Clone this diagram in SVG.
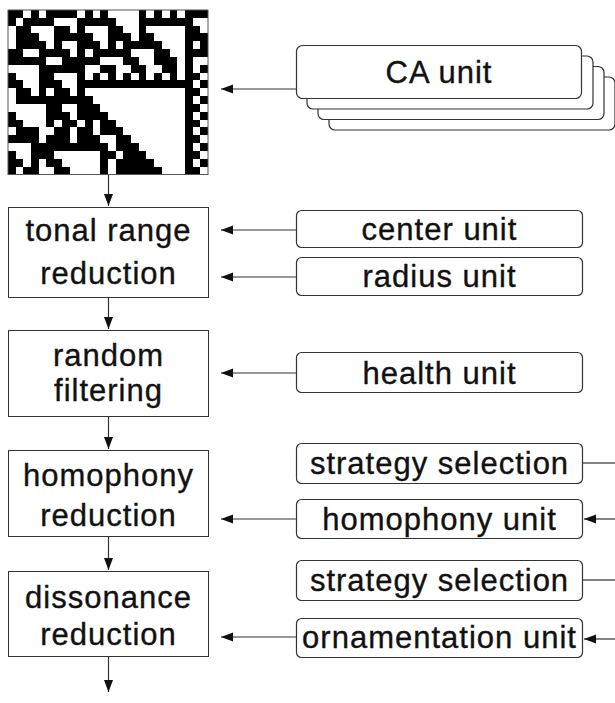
<svg xmlns="http://www.w3.org/2000/svg" width="615" height="703" viewBox="0 0 615 703">
<defs>
<marker id="ah" markerUnits="userSpaceOnUse" markerWidth="13" markerHeight="10" refX="12" refY="4.5" orient="auto">
<path d="M0,0 L12,4.5 L0,9 z" fill="#111"/>
</marker>
<style>
.t{font-family:"Liberation Sans",Arial,Helvetica,sans-serif;font-size:31px;letter-spacing:1px;fill:#111;stroke:#111;stroke-width:0.35px;text-anchor:middle}
.lb{fill:#fff;stroke:#333;stroke-width:1}
.rb{fill:#fff;stroke:#333;stroke-width:1.2}
.c{fill:none;stroke:#333;stroke-width:1.2}
</style>
</defs>
<rect width="615" height="703" fill="#fff"/>

<g id="ca-grid">
<rect x="8" y="10" width="200" height="164.5" fill="#fff"/>
<g transform="translate(8,10) scale(7.6923,7.8333)">
<path shape-rendering="crispEdges" fill="#000" d="
M0 0h2v1h-2z M3 0h1v1h-1z M5 0h4v1h-4z M10 0h1v1h-1z M12 0h1v1h-1z M17 0h1v1h-1z M19 0h1v1h-1z M21 0h1v1h-1z M23 0h3v1h-3z
M0 1h1v1h-1z M2 1h4v1h-4z M9 1h5v1h-5z M17 1h7v1h-7z
M1 2h2v1h-2z M6 2h2v1h-2z M9 2h1v1h-1z M13 2h2v1h-2z M17 2h1v1h-1z M23 2h2v1h-2z
M1 3h3v1h-3z M6 3h5v1h-5z M13 3h3v1h-3z M17 3h2v1h-2z M23 3h3v1h-3z
M1 4h4v1h-4z M6 4h1v1h-1z M9 4h3v1h-3z M13 4h1v1h-1z M15 4h5v1h-5z M23 4h1v1h-1z M25 4h1v1h-1z
M0 5h2v1h-2z M4 5h4v1h-4z M9 5h1v1h-1z M11 5h5v1h-5z M19 5h2v1h-2z M23 5h3v1h-3z
M0 6h5v1h-5z M7 6h5v1h-5z M15 6h2v1h-2z M19 6h3v1h-3z M23 6h1v1h-1z
M4 7h6v1h-6z M12 7h2v1h-2z M16 7h2v1h-2z M20 7h2v1h-2z M23 7h1v1h-1z M25 7h1v1h-1z
M0 8h1v1h-1z M4 8h2v1h-2z M9 8h1v1h-1z M11 8h1v1h-1z M13 8h1v1h-1z M15 8h1v1h-1z M17 8h1v1h-1z M19 8h1v1h-1z M21 8h1v1h-1z M23 8h2v1h-2z
M0 9h2v1h-2z M4 9h3v1h-3z M9 9h15v1h-15z M25 9h1v1h-1z
M1 10h2v1h-2z M4 10h1v1h-1z M6 10h2v1h-2z M9 10h1v1h-1z M23 10h2v1h-2z
M1 11h10v1h-10z M23 11h1v1h-1z M25 11h1v1h-1z
M5 12h2v1h-2z M9 12h3v1h-3z M23 12h2v1h-2z
M0 13h1v1h-1z M5 13h3v1h-3z M9 13h4v1h-4z M23 13h1v1h-1z M25 13h1v1h-1z
M0 14h2v1h-2z M5 14h1v1h-1z M7 14h2v1h-2z M10 14h1v1h-1z M12 14h2v1h-2z M23 14h2v1h-2z
M1 15h3v1h-3z M6 15h2v1h-2z M9 15h2v1h-2z M12 15h3v1h-3z M23 15h1v1h-1z M25 15h1v1h-1z
M0 16h4v1h-4z M5 16h3v1h-3z M9 16h3v1h-3z M14 16h2v1h-2z M23 16h2v1h-2z
M3 17h10v1h-10z M14 17h3v1h-3z M23 17h1v1h-1z M25 17h1v1h-1z
M0 18h1v1h-1z M3 18h3v1h-3z M12 18h2v1h-2z M15 18h3v1h-3z M23 18h2v1h-2z
M0 19h2v1h-2z M3 19h1v1h-1z M5 19h2v1h-2z M12 19h1v1h-1z M14 19h5v1h-5z M23 19h1v1h-1z M25 19h1v1h-1z
M0 20h1v1h-1z M2 20h2v1h-2z M6 20h2v1h-2z M12 20h1v1h-1z M14 20h6v1h-6z M23 20h2v1h-2z"/>
</g>
<rect x="8" y="10" width="200" height="164.5" fill="none" stroke="#555" stroke-width="1"/>
</g>

<g id="ca-unit">
<rect class="rb" x="329" y="77" width="286" height="53" rx="6"/>
<rect class="rb" x="318" y="66.5" width="286" height="53" rx="6"/>
<rect class="rb" x="307" y="56" width="286" height="53" rx="6"/>
<rect class="rb" x="296.5" y="45.5" width="285" height="53" rx="6"/>
<text class="t" x="439" y="83">CA unit</text>
</g>

<g id="tonal-range-reduction">
<rect class="lb" x="8.5" y="207.5" width="200" height="90"/>
<text class="t" x="108.5" y="241">tonal range</text>
<text class="t" x="108.5" y="284">reduction</text>
</g>
<g id="random-filtering">
<rect class="lb" x="8.5" y="330.5" width="200" height="86"/>
<text class="t" x="108.5" y="366">random</text>
<text class="t" x="108.5" y="401">filtering</text>
</g>
<g id="homophony-reduction">
<rect class="lb" x="8.5" y="450.5" width="200" height="86"/>
<text class="t" x="108.5" y="486">homophony</text>
<text class="t" x="108.5" y="526">reduction</text>
</g>
<g id="dissonance-reduction">
<rect class="lb" x="8.5" y="571.5" width="200" height="85"/>
<text class="t" x="108.5" y="608">dissonance</text>
<text class="t" x="108.5" y="645">reduction</text>
</g>

<g id="center-unit">
<rect class="rb" x="296.5" y="210.5" width="286" height="37" rx="5"/>
<text class="t" x="439.5" y="240">center unit</text>
</g>
<g id="radius-unit">
<rect class="rb" x="296.5" y="257.5" width="286" height="38" rx="5"/>
<text class="t" x="439.5" y="287">radius unit</text>
</g>
<g id="health-unit">
<rect class="rb" x="296.5" y="352.5" width="286" height="40" rx="5"/>
<text class="t" x="439.5" y="384">health unit</text>
</g>
<g id="strategy-selection-1">
<rect class="rb" x="296.5" y="443.5" width="286" height="40" rx="5"/>
<text class="t" x="439.5" y="474">strategy selection</text>
</g>
<g id="homophony-unit">
<rect class="rb" x="296.5" y="499.5" width="286" height="39" rx="5"/>
<text class="t" x="439.5" y="530">homophony unit</text>
</g>
<g id="strategy-selection-2">
<rect class="rb" x="296.5" y="560.5" width="286" height="40" rx="5"/>
<text class="t" x="439.5" y="591">strategy selection</text>
</g>
<g id="ornamentation-unit">
<rect class="rb" x="296.5" y="618.5" width="286" height="39" rx="5"/>
<text class="t" x="439.5" y="648">ornamentation unit</text>
</g>

<g id="connectors">
<path class="c" marker-end="url(#ah)" d="M296 89H221"/>
<path class="c" marker-end="url(#ah)" d="M108.5 175V206"/>
<path class="c" marker-end="url(#ah)" d="M296 230H221"/>
<path class="c" marker-end="url(#ah)" d="M296 277H221"/>
<path class="c" marker-end="url(#ah)" d="M108.5 298V329"/>
<path class="c" marker-end="url(#ah)" d="M296 373H221"/>
<path class="c" marker-end="url(#ah)" d="M108.5 417V449"/>
<path class="c" d="M583 463H615"/>
<path class="c" marker-end="url(#ah)" d="M296 519H221"/>
<path class="c" marker-end="url(#ah)" d="M615 519H584"/>
<path class="c" marker-end="url(#ah)" d="M108.5 537V570"/>
<path class="c" d="M583 580H615"/>
<path class="c" marker-end="url(#ah)" d="M296 637H221"/>
<path class="c" marker-end="url(#ah)" d="M615 639H584"/>
<path class="c" marker-end="url(#ah)" d="M108.5 657V692"/>
</g>
</svg>
